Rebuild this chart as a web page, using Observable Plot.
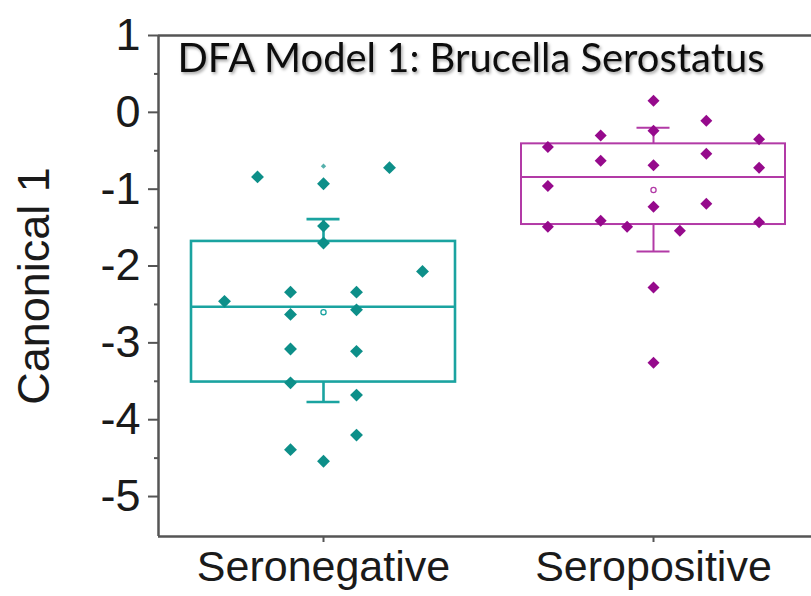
<!DOCTYPE html>
<html>
<head>
<meta charset="utf-8">
<script src="https://cdn.jsdelivr.net/npm/d3@7"></script>
<script src="https://cdn.jsdelivr.net/npm/@observablehq/plot@0.6"></script>
<style>
  body { margin: 0; background: #fff; }
  #chart svg { display: block; }
</style>
</head>
<body>
<div id="chart"></div>
<script>
// ---- data ----
const title = "DFA Model 1: Brucella Serostatus";
const yLabel = "Canonical 1";
const categories = ["Seronegative", "Seropositive"];
const categoryPos = [1, 2];
const yTicks = [1, 0, -1, -2, -3, -4, -5];
const yMinorTicks = [0.5, -0.5, -1.5, -2.5, -3.5, -4.5];

const boxQ1 = [-3.51, -1.46];
const boxQ3 = [-1.68, -0.41];
const boxMedian = [-2.53, -0.84];
const boxMean = [-2.60, -1.01];
const whiskerLow = [-3.77, -1.81];
const whiskerHigh = [-1.39, -0.20];

const negJitter = [-0.2, 0, 0.2, 0, 0, 0.3, -0.3, -0.1, 0.1, -0.1, 0.1, -0.1, 0.1, -0.1, 0.1, 0.1, -0.1, 0];
const negValues = [-0.84, -0.93, -0.72, -1.48, -1.70, -2.07, -2.46, -2.34, -2.34, -2.63, -2.57, -3.08, -3.11, -3.52, -3.68, -4.20, -4.39, -4.54];
const negFaintJitter = [0];
const negFaintValues = [-0.70];

const posJitter = [0, 0.16, -0.16, 0, 0.32, -0.32, 0.16, -0.16, 0, 0.32, -0.32, 0, 0.16, -0.16, -0.32, -0.08, 0.08, 0.32, 0, 0];
const posValues = [0.15, -0.11, -0.30, -0.24, -0.35, -0.45, -0.54, -0.63, -0.69, -0.72, -0.96, -1.23, -1.19, -1.41, -1.49, -1.49, -1.54, -1.43, -2.28, -3.26];

// ---- styling ----
const pointColors = ["#0d8f89", "#960a8c"];
const boxColors = ["#1aa3a0", "#b23aa6"];
const boxWidths = [2.6, 2];
const boxHalf = 0.4;
const capHalf = 0.05;
const yDomain = [-5.52, 1];
const xDomain = [0.5, 2.5];
const axisColor = "#555";

const groups = [0, 1];
const negPoints = negValues.map((v, i) => ({x: categoryPos[0] + negJitter[i], y: v}));
const negFaint = negFaintValues.map((v, i) => ({x: categoryPos[0] + negFaintJitter[i], y: v}));
const posPoints = posValues.map((v, i) => ({x: categoryPos[1] + posJitter[i], y: v}));

const chart = Plot.plot({
  width: 811,
  height: 596,
  marginLeft: 158,
  marginRight: 0,
  marginTop: 35,
  marginBottom: 60,
  style: {fontFamily: "'Liberation Sans', Arial, sans-serif", background: "#fff", color: "#1a1a1a"},
  x: {domain: xDomain, range: [158, 818]},
  y: {domain: yDomain},
  marks: [
    // frame lines
    Plot.ruleY([yDomain[1]], {stroke: axisColor, strokeWidth: 2.5}),
    Plot.ruleY([yDomain[0]], {stroke: axisColor, strokeWidth: 2.5}),
    Plot.ruleX([xDomain[0]], {stroke: axisColor, strokeWidth: 2.5}),
    // boxes
    Plot.rect(groups, {
      x1: i => categoryPos[i] - boxHalf, x2: i => categoryPos[i] + boxHalf,
      y1: i => boxQ1[i], y2: i => boxQ3[i],
      fill: "none", stroke: i => boxColors[i], strokeWidth: i => boxWidths[i]
    }),
    Plot.ruleY(groups, {
      y: i => boxMedian[i],
      x1: i => categoryPos[i] - boxHalf, x2: i => categoryPos[i] + boxHalf,
      stroke: i => boxColors[i], strokeWidth: i => boxWidths[i]
    }),
    Plot.ruleX(groups, {x: i => categoryPos[i], y1: i => boxQ3[i], y2: i => whiskerHigh[i], stroke: i => boxColors[i], strokeWidth: i => boxWidths[i]}),
    Plot.ruleX(groups, {x: i => categoryPos[i], y1: i => boxQ1[i], y2: i => whiskerLow[i], stroke: i => boxColors[i], strokeWidth: i => boxWidths[i]}),
    Plot.ruleY(groups, {y: i => whiskerHigh[i], x1: i => categoryPos[i] - capHalf, x2: i => categoryPos[i] + capHalf, stroke: i => boxColors[i], strokeWidth: i => boxWidths[i]}),
    Plot.ruleY(groups, {y: i => whiskerLow[i], x1: i => categoryPos[i] - capHalf, x2: i => categoryPos[i] + capHalf, stroke: i => boxColors[i], strokeWidth: i => boxWidths[i]}),
    // points
    Plot.dot(negPoints, {x: "x", y: "y", symbol: "diamond2", r: 5.8, fill: pointColors[0], stroke: "none"}),
    Plot.dot(negFaint, {x: "x", y: "y", symbol: "diamond2", r: 2.4, fill: pointColors[0], fillOpacity: 0.7, stroke: "none"}),
    Plot.dot(posPoints, {x: "x", y: "y", symbol: "diamond2", r: 5.4, fill: pointColors[1], stroke: "none"}),
    // mean
    Plot.dot(groups, {x: i => categoryPos[i], y: i => boxMean[i], r: 2.6, fill: "white", stroke: i => boxColors[i], strokeWidth: 1.3}),
    // title
    Plot.text([title], {
      frameAnchor: "top-left", textAnchor: "start", lineAnchor: "top",
      dx: 19, dy: 8, fontSize: 40, fontFamily: "Lato", fill: "#111"
    }),
    // axes
    Plot.axisY({ticks: yMinorTicks, tickSize: 4, tickFormat: () => "", label: null, stroke: axisColor, strokeWidth: 2}),
    Plot.axisY({
      ticks: yTicks, tickSize: 10, tickPadding: 8, fontSize: 45,
      tickFormat: d => String(d), stroke: axisColor, strokeWidth: 2,
      label: yLabel, labelAnchor: "center", labelOffset: 141, labelArrow: "none"
    }),
    Plot.axisX({
      ticks: categoryPos, tickSize: 6, tickPadding: 8, fontSize: 43,
      tickFormat: d => categories[categoryPos.indexOf(d)], stroke: axisColor, strokeWidth: 2,
      label: null
    })
  ]
});

document.getElementById("chart").appendChild(chart);

// title: match the reference's condensed width and soft shadow
const ns = "http://www.w3.org/2000/svg";
const defs = document.createElementNS(ns, "defs");
defs.innerHTML = '<filter id="tshadow" x="-5%" y="-20%" width="110%" height="150%"><feDropShadow dx="1.5" dy="2" stdDeviation="1.4" flood-color="#000" flood-opacity="0.35"/></filter>';
chart.insertBefore(defs, chart.firstChild);
chart.querySelectorAll("text").forEach(t => {
  if (t.textContent === title) {
    t.setAttribute("textLength", 587);
    t.setAttribute("lengthAdjust", "spacingAndGlyphs");
    t.setAttribute("filter", "url(#tshadow)");
  }
});
</script>
</body>
</html>
